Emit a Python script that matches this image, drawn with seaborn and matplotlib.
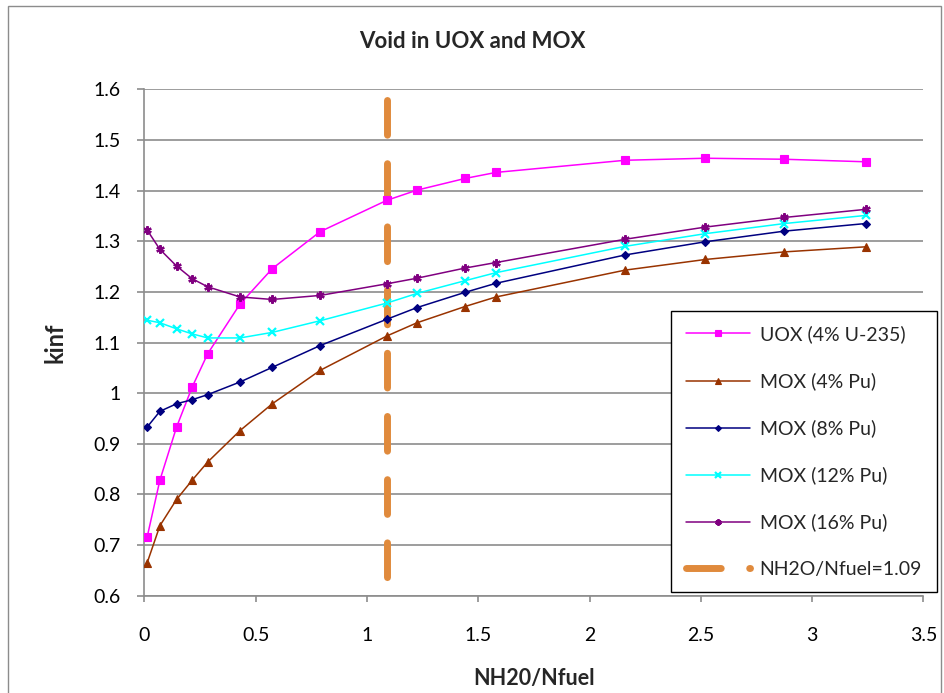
import matplotlib
matplotlib.use("Agg")
import matplotlib.pyplot as plt
import matplotlib.patches as mpatches
import pandas as pd
import seaborn as sns

# NH2O/Nfuel ratio (x axis)
ratio = [0.013, 0.07, 0.145, 0.215, 0.285, 0.43, 0.575, 0.79, 1.09,
         1.225, 1.44, 1.58, 2.16, 2.52, 2.875, 3.24]

uox_4 = [0.716, 0.828, 0.933, 1.012, 1.078, 1.176, 1.246, 1.319, 1.381,
         1.401, 1.424, 1.436, 1.460, 1.464, 1.462, 1.457]
mox_4 = [0.665, 0.738, 0.790, 0.828, 0.864, 0.926, 0.979, 1.045, 1.113,
         1.139, 1.171, 1.190, 1.243, 1.264, 1.279, 1.289]
mox_8 = [0.933, 0.964, 0.979, 0.987, 0.997, 1.022, 1.051, 1.094, 1.146,
         1.169, 1.199, 1.217, 1.273, 1.299, 1.320, 1.335]
mox_12 = [1.144, 1.139, 1.127, 1.117, 1.109, 1.109, 1.120, 1.143, 1.178,
          1.197, 1.222, 1.238, 1.290, 1.315, 1.335, 1.351]
mox_16 = [1.322, 1.284, 1.251, 1.226, 1.210, 1.190, 1.185, 1.193, 1.216,
          1.227, 1.247, 1.258, 1.304, 1.328, 1.347, 1.363]

# nominal moderation ratio line
nominal_x = [1.09, 1.09]
nominal_y = [1.58, 0.63]

labels = ["UOX (4% U-235)", "MOX (4% Pu)", "MOX (8% Pu)", "MOX (12% Pu)", "MOX (16% Pu)"]
series = [uox_4, mox_4, mox_8, mox_12, mox_16]
colors = ["#FF00FF", "#993300", "#000080", "#00FFFF", "#800080"]
markers = ["s", "^", "D", "x", (6, 2, 0)]
msizes = [5.5, 5.5, 4.0, 5.5, 6.0]

sns.set_theme(style="white")
plt.rcParams["font.family"] = ["Lato", "DejaVu Sans"]

fig = plt.figure(figsize=(9.45, 6.93), dpi=100)
ax = fig.add_axes([144.3 / 945, 1 - 595.6 / 693, (923.5 - 144.3) / 945, (595.6 - 89.4) / 693])

# outer chart border
fig.patches.append(mpatches.Rectangle((8 / 945, -0.01), (941 - 8) / 945, 1.01 - 6 / 693,
                                      transform=fig.transFigure, fill=False,
                                      edgecolor="#8C8C8C", lw=1.0))

sns.lineplot(x=nominal_x, y=nominal_y, ax=ax, color="#E08A3C", lw=5.0,
             estimator=None, sort=False, label="NH2O/Nfuel=1.09", zorder=1,
             linestyle=(0, (5, 4.1)), dash_capstyle="round")

for lab, vals, c, m, ms in zip(labels, series, colors, markers, msizes):
    df = pd.DataFrame({"ratio": ratio, "kinf": vals})
    sns.lineplot(data=df, x="ratio", y="kinf", ax=ax, color=c, lw=1.1,
                 marker=m, markersize=ms, markeredgecolor=c,
                 markeredgewidth=1.6 if m in ("x",) or isinstance(m, tuple) else 0.8,
                 label=lab, zorder=3)

ax.set_xlim(0, 3.5)
ax.set_ylim(0.6, 1.6)
ax.set_xticks([0, 0.5, 1, 1.5, 2, 2.5, 3, 3.5])
ax.set_xticklabels(["0", "0.5", "1", "1.5", "2", "2.5", "3", "3.5"])
ax.set_yticks([0.6, 0.7, 0.8, 0.9, 1.0, 1.1, 1.2, 1.3, 1.4, 1.5, 1.6])
ax.set_yticklabels(["0.6", "0.7", "0.8", "0.9", "1", "1.1", "1.2", "1.3", "1.4", "1.5", "1.6"])
ax.grid(axis="y", color="#8C8C8C", lw=1.2)
ax.grid(axis="x", visible=False)
ax.set_axisbelow(True)

for side in ["top", "right"]:
    ax.spines[side].set_visible(False)
for side in ["left", "bottom"]:
    ax.spines[side].set_color("#8C8C8C")
    ax.spines[side].set_linewidth(1.2)

ax.tick_params(axis="y", left=True, length=5, width=1.2, color="#8C8C8C",
               labelsize=14, pad=12, labelcolor="black")
ax.tick_params(axis="x", bottom=True, length=4.5, width=1.2, color="#8C8C8C",
               labelsize=14, pad=18, labelcolor="black")

ax.set_xlabel("NH20/Nfuel", fontsize=15.5, fontweight="bold")
ax.set_ylabel("kinf", fontsize=17, fontweight="bold")
ax.yaxis.set_label_coords(-0.100, 0.5)
ax.xaxis.set_label_coords(0.5, -0.143)
fig.text(0.5, 1 - 41 / 693, "Void in UOX and MOX", ha="center", va="center",
         fontsize=16, fontweight="bold")

handles, labs = ax.get_legend_handles_labels()
order = [1, 2, 3, 4, 5, 0]
leg = ax.legend([handles[i] for i in order], [labs[i] for i in order],
                loc="lower right", bbox_to_anchor=(936.7 / 945, 1 - 592.3 / 693),
                bbox_transform=fig.transFigure, fontsize=14, frameon=True,
                fancybox=False, framealpha=1, edgecolor="black",
                handlelength=3.3, handletextpad=0.5, labelspacing=1.5,
                borderpad=0.75, borderaxespad=0, markerscale=0.75)
leg.get_frame().set_linewidth(1.0)
leg.set_zorder(5)

fig.savefig("out.png", dpi=100)
